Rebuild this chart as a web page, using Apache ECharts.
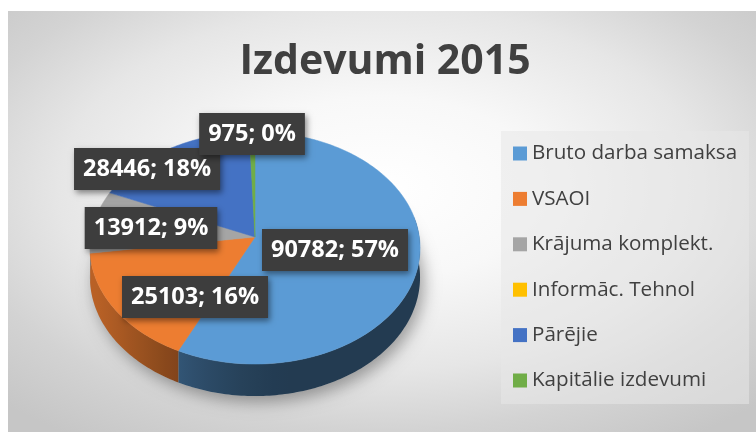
<!DOCTYPE html>
<html>
<head>
<meta charset="utf-8">
<script src="https://cdn.jsdelivr.net/npm/echarts@6/dist/echarts.min.js"></script>
<style>
  html, body { margin: 0; padding: 0; background: #ffffff; }
  #chart { width: 756px; height: 432px; }
</style>
</head>
<body>
<div id="chart"></div>
<script>
// Expense categories and their 2015 totals
const categories = ['Bruto darba samaksa', 'VSAOI', 'Krājuma komplekt.', 'Informāc. Tehnol', 'Pārējie', 'Kapitālie izdevumi'];
const values = [90782, 25103, 13912, 0, 28446, 975];
const colors = ['#5B9BD5', '#ED7D31', '#A5A5A5', '#FFC000', '#4472C4', '#70AD47'];
const titleText = 'Izdevumi 2015';

// Label anchors, as fractions of the pie's half-width / half-depth from its centre
const labelSpots = [[0.487, 0.113], [-0.365, 0.522], [-0.633, -0.078], null, [-0.657, -0.591], [-0.018, -0.896]];

// Tilted pie geometry (perspective view of a flat disc)
const PIE = { cx: 255, cy: 237, a: 164.3, b: 115, k: 0.0948, depth: 29 };

const total = values.reduce((s, v) => s + v, 0);
const startAngles = [];
(function () {
  let acc = 0;
  values.forEach(v => { startAngles.push(acc / total * Math.PI * 2); acc += v; });
  startAngles.push(Math.PI * 2);
})();

// Whole-number percentages that add up to 100 (largest remainder)
const percents = (function () {
  const raw = values.map(v => v / total * 100);
  const fl = raw.map(Math.floor);
  let left = 100 - fl.reduce((s, v) => s + v, 0);
  const order = raw.map((r, i) => [r - fl[i], i]).sort((p, q) => q[0] - p[0]);
  for (let j = 0; j < left; j++) fl[order[j][1]] += 1;
  return fl;
})();

// angle: clockwise from 12 o'clock; drop: downward offset for the rim
function proj(t, drop) {
  const X = Math.sin(t), Z = Math.cos(t);
  const w = 1 + PIE.k * Z;
  return [PIE.cx + PIE.a * X / w, PIE.cy - PIE.b * Z / w + (drop || 0) / w];
}

function shadeFactor(t) {
  const c = Math.max(0, Math.cos(t - 255 * Math.PI / 180));
  return 0.38 + 0.4 * c * c;
}

function shade(hex, f) {
  const n = parseInt(hex.slice(1), 16);
  const r = Math.round(((n >> 16) & 255) * f);
  const g = Math.round(((n >> 8) & 255) * f);
  const b = Math.round((n & 255) * f);
  return 'rgb(' + r + ',' + g + ',' + b + ')';
}

function arcPoints(t0, t1, drop) {
  const pts = [];
  const n = Math.max(2, Math.ceil((t1 - t0) / (Math.PI / 180)));
  for (let j = 0; j <= n; j++) pts.push(proj(t0 + (t1 - t0) * j / n, drop));
  return pts;
}

function makeRenderer(i) {
  return function (params, api) {
    const v = api.value(0);
    const children = [];
    if (i === 0) {
      // soft shadow under the disc
      children.push({
        type: 'polygon', z2: -5,
        shape: { points: arcPoints(0, Math.PI * 2, PIE.depth) },
        style: { fill: '#b9b9b9', shadowBlur: 16, shadowColor: 'rgba(0,0,0,0.35)', shadowOffsetX: 4, shadowOffsetY: 6 }
      });
    }
    if (!v) return { type: 'group', children: children };
    const t0 = startAngles[i], t1 = startAngles[i + 1];
    const col = colors[i];

    // rim (front side) of this slice
    const lo = Math.max(t0, 80 * Math.PI / 180), hi = Math.min(t1, 280 * Math.PI / 180);
    if (hi > lo) {
      const topArc = arcPoints(lo, hi, 0);
      const botArc = arcPoints(lo, hi, PIE.depth).reverse();
      const n = 24;
      const samples = [];
      for (let j = 0; j <= n; j++) {
        const t = lo + (hi - lo) * j / n;
        samples.push([proj(t, 0)[0], t]);
      }
      const xs = topArc.map(p => p[0]).concat(samples.map(s => s[0]));
      const xmin = Math.min.apply(null, xs), xmax = Math.max.apply(null, xs);
      const stops = samples.map(s => ({
        offset: Math.min(1, Math.max(0, xmax > xmin ? (s[0] - xmin) / (xmax - xmin) : 0)),
        color: shade(col, shadeFactor(s[1]))
      }));
      stops.sort((p, q) => p.offset - q.offset);
      children.push({
        type: 'polygon', z2: 1,
        shape: { points: topArc.concat(botArc) },
        style: {
          fill: new echarts.graphic.LinearGradient(0, 0, 1, 0, stops),
          stroke: null
        }
      });
    }

    // top face of this slice
    const face = [[PIE.cx, PIE.cy]].concat(arcPoints(t0, t1, 0));
    children.push({
      type: 'polygon', z2: 10,
      shape: { points: face },
      style: { fill: col, stroke: col, lineWidth: 0.5 }
    });

    // value label
    const spot = labelSpots[i];
    if (spot) {
      children.push({
        type: 'text', z2: 100,
        x: PIE.cx + spot[0] * PIE.a,
        y: PIE.cy + spot[1] * PIE.b,
        style: {
          text: v + '; ' + percents[i] + '%',
          fill: '#ffffff',
          fontFamily: '"Open Sans", sans-serif',
          fontWeight: 'bold',
          fontSize: 23.5,
          lineHeight: 24,
          align: 'center',
          verticalAlign: 'middle',
          backgroundColor: '#3d3d3d',
          padding: [9, 9, 9, 9],
          shadowBlur: 6,
          shadowColor: 'rgba(0,0,0,0.45)',
          shadowOffsetX: 2,
          shadowOffsetY: 3
        }
      });
    }
    return { type: 'group', children: children };
  };
}

const chart = echarts.init(document.getElementById('chart'), null, { renderer: 'canvas' });

chart.setOption({
  animation: false,
  color: colors,
  graphic: [{
    type: 'rect', silent: true, z: -10,
    x: 8, y: 11,
    scaleY: 421 / 748,
    shape: { x: 0, y: 0, width: 748, height: 748 },
    style: {
      fill: new echarts.graphic.RadialGradient(0.5, 0.42, 0.72, [
        { offset: 0, color: '#ffffff' },
        { offset: 0.3, color: '#f8f8f8' },
        { offset: 0.6, color: '#e6e6e6' },
        { offset: 0.8, color: '#d3d3d3' },
        { offset: 1, color: '#c6c6c6' }
      ])
    }
  }],
  title: {
    text: titleText,
    left: 385,
    textAlign: 'center',
    top: 42,
    padding: 0,
    textStyle: {
      fontFamily: '"Open Sans", sans-serif',
      fontWeight: 'bold',
      fontSize: 41,
      color: '#404040'
    }
  },
  legend: {
    orient: 'vertical',
    left: 501,
    top: 131,
    padding: [12, 12, 13, 12],
    itemGap: 24.4,
    itemWidth: 14,
    itemHeight: 14,
    icon: 'rect',
    selectedMode: false,
    backgroundColor: 'rgba(232,232,232,0.55)',
    data: categories,
    textStyle: {
      fontFamily: '"Open Sans", sans-serif',
      fontSize: 20.6,
      lineHeight: 20,
      color: '#404040'
    }
  },
  series: categories.map((name, i) => ({
    type: 'custom',
    name: name,
    coordinateSystem: 'none',
    silent: true,
    itemStyle: { color: colors[i] },
    data: [[values[i]]],
    renderItem: makeRenderer(i)
  }))
});
</script>
</body>
</html>
